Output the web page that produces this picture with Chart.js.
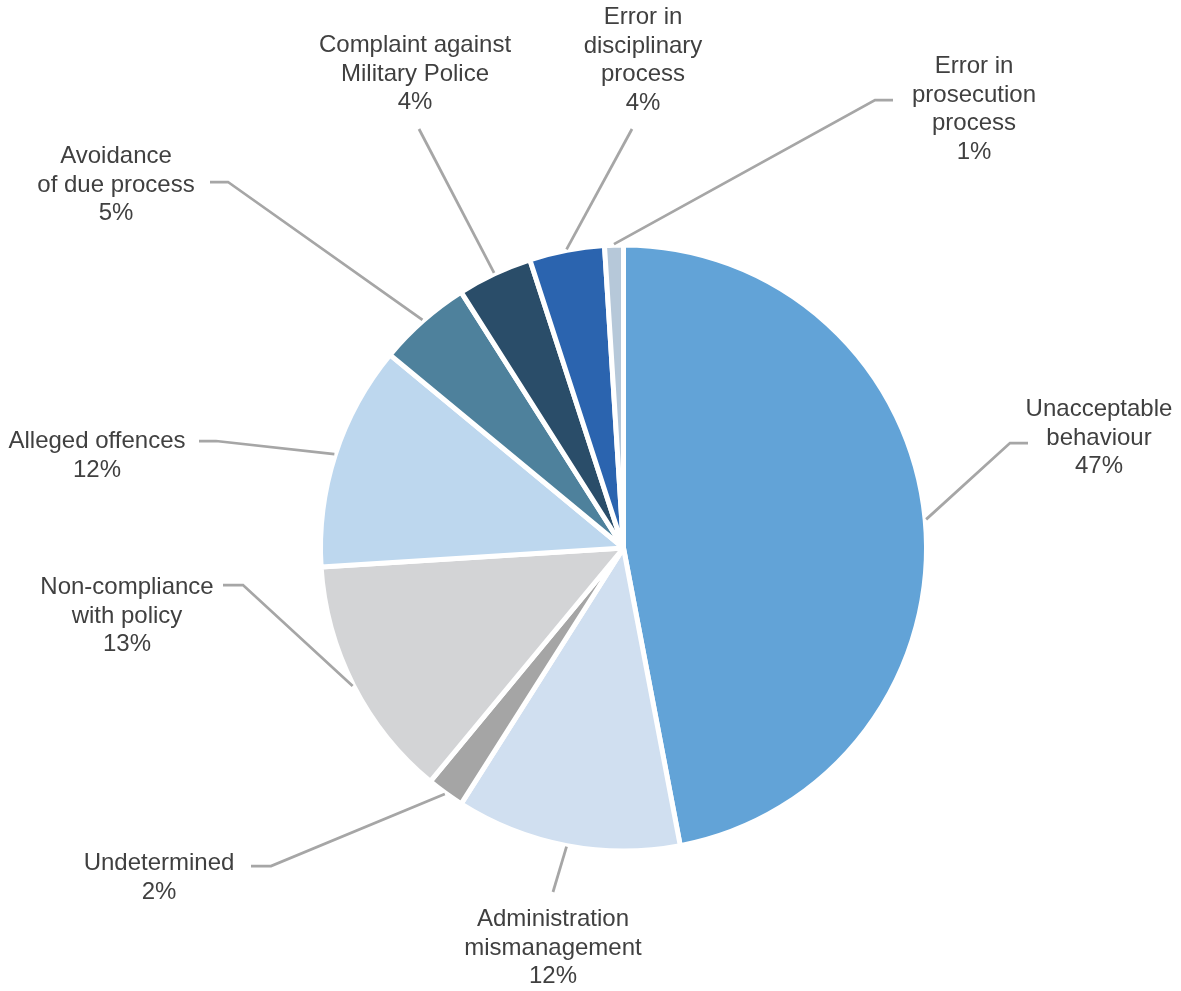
<!DOCTYPE html>
<html>
<head>
<meta charset="utf-8">
<script src="https://cdn.jsdelivr.net/npm/chart.js@4/dist/chart.umd.min.js"></script>
<style>
  html, body { margin: 0; padding: 0; background: #ffffff; overflow: hidden; }
  canvas { display: block; }
</style>
</head>
<body>
<canvas id="chart" width="1181" height="991"></canvas>
<script>
// Complaint categories (line breaks mark where each label wraps)
const categories = [
  "Unacceptable\nbehaviour",
  "Administration\nmismanagement",
  "Undetermined",
  "Non-compliance\nwith policy",
  "Alleged offences",
  "Avoidance\nof due process",
  "Complaint against\nMilitary Police",
  "Error in\ndisciplinary\nprocess",
  "Error in\nprosecution\nprocess"
];

// Share of complaints, in percent
const shares = [47, 12, 2, 13, 12, 5, 4, 4, 1];

const sliceColors = [
  "#62a3d7", "#d0dff0", "#a5a5a5", "#d3d4d6", "#bdd7ee",
  "#4e819c", "#2a4d69", "#2b64af", "#b6c8d9"
];

// Where each label's text and leader line sit (text centre x, first baseline,
// elbow of the leader, end of its short horizontal run)
const labelLayout = [
  { x: 1099, y: 416, elbow: [1010, 443], end: [1028, 443] },
  { x: 553,  y: 926, elbow: [553, 892],  end: [553, 892] },
  { x: 159,  y: 870, elbow: [271, 866],  end: [251, 866] },
  { x: 127,  y: 594, elbow: [243, 585],  end: [223, 585] },
  { x: 97,   y: 448, elbow: [216, 441],  end: [199, 441] },
  { x: 116,  y: 163, elbow: [228, 182],  end: [210, 182] },
  { x: 415,  y: 52,  elbow: [419, 129],  end: [419, 129] },
  { x: 643,  y: 24,  elbow: [632, 129],  end: [632, 129] },
  { x: 974,  y: 73,  elbow: [875, 100],  end: [893, 100] }
];

const LABEL_FONT = "24px 'Liberation Sans', Arial, sans-serif";
const LABEL_COLOR = "#404040";
const LEADER_COLOR = "#a6a6a6";
const LINE_HEIGHT = 28.5;

// Draws the category labels and their leader lines from each slice's outer edge
const leaderLabels = {
  id: "leaderLabels",
  afterDatasetsDraw(chart) {
    const ctx = chart.ctx;
    const arcs = chart.getDatasetMeta(0).data;
    ctx.save();
    arcs.forEach((arc, i) => {
      const p = arc.getProps(["x", "y", "startAngle", "endAngle", "outerRadius"], true);
      const mid = (p.startAngle + p.endAngle) / 2;
      const r = p.outerRadius + 1;
      const ax = p.x + Math.cos(mid) * r;
      const ay = p.y + Math.sin(mid) * r;
      const lay = labelLayout[i];

      ctx.beginPath();
      ctx.moveTo(ax, ay);
      ctx.lineTo(lay.elbow[0], lay.elbow[1]);
      ctx.lineTo(lay.end[0], lay.end[1]);
      ctx.strokeStyle = LEADER_COLOR;
      ctx.lineWidth = 2.75;
      ctx.lineCap = "butt";
      ctx.lineJoin = "miter";
      ctx.stroke();

      const lines = categories[i].split("\n").concat([shares[i] + "%"]);
      ctx.font = LABEL_FONT;
      ctx.fillStyle = LABEL_COLOR;
      ctx.textAlign = "center";
      ctx.textBaseline = "alphabetic";
      lines.forEach((t, k) => ctx.fillText(t, lay.x, lay.y + k * LINE_HEIGHT));
    });
    ctx.restore();
  }
};

new Chart(document.getElementById("chart"), {
  type: "pie",
  data: {
    labels: categories.map(c => c.replace(/\n/g, " ")),
    datasets: [{
      data: shares,
      backgroundColor: sliceColors,
      borderColor: "#ffffff",
      borderWidth: 5,
      hoverOffset: 0,
      offset: 0
    }]
  },
  options: {
    responsive: false,
    devicePixelRatio: 1,
    animation: false,
    events: [],
    radius: 303,
    layout: { padding: { left: 166, right: 100, top: 155, bottom: 50 } },
    plugins: {
      legend: { display: false },
      tooltip: { enabled: false }
    }
  },
  plugins: [leaderLabels]
});
</script>
</body>
</html>
